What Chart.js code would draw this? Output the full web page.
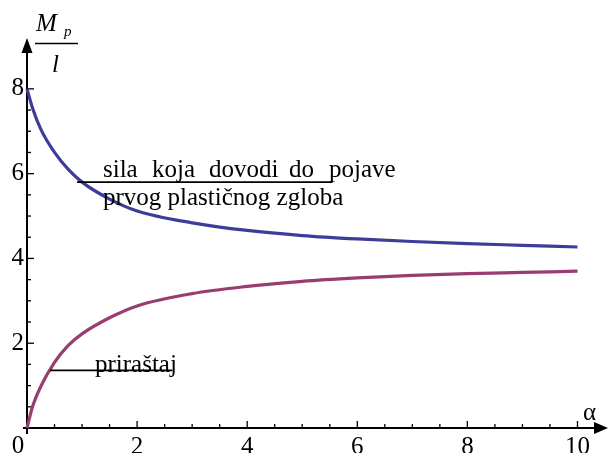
<!DOCTYPE html>
<html>
<head>
<meta charset="utf-8">
<script src="https://cdn.jsdelivr.net/npm/chart.js@4"></script>
<style>
html,body{margin:0;padding:0;background:#fff;}
#wrap{width:609px;height:453px;}
</style>
</head>
<body>
<div id="wrap"><canvas id="c" width="609" height="453"></canvas></div>
<script>
// ---- data ----
const alpha = [0, 0.1, 0.25, 0.5, 0.75, 1, 1.5, 2, 3, 4, 5, 6, 7, 8, 9, 10];
const upperForce = [8, 7.55, 7.05, 6.5, 6.1, 5.8, 5.4, 5.12, 4.84, 4.66, 4.54, 4.46, 4.40, 4.35, 4.31, 4.27];
const increment = [0, 0.5, 0.98, 1.55, 1.95, 2.22, 2.6, 2.88, 3.17, 3.34, 3.46, 3.54, 3.60, 3.64, 3.67, 3.70];
const xTicks = [2, 4, 6, 8, 10];
const yTicks = [2, 4, 6, 8];
const labelUpper1 = ["sila", "koja", "dovodi", "do", "pojave"];
const labelUpper2 = "prvog plastičnog zgloba";
const labelLower = "priraštaj";
// annotation leader lines in data units [x0, x1, y]
const leaderUpper = [0.91, 5.55, 5.8];
const leaderLower = [0.42, 2.64, 1.36];

const FONT = "'Liberation Serif', 'Times New Roman', serif";

const toXY = (ys) => alpha.map((a, i) => ({x: a, y: ys[i]}));

const decor = {
  id: 'decor',
  beforeDatasetsDraw(chart) {
    const ctx = chart.ctx;
    const xs = chart.scales.x, ys = chart.scales.y;
    const x0 = xs.getPixelForValue(0), y0 = ys.getPixelForValue(0);
    ctx.save();
    ctx.strokeStyle = '#000';
    ctx.fillStyle = '#000';
    ctx.lineWidth = 2;
    // x axis
    ctx.beginPath();
    ctx.moveTo(x0 - 4, y0); ctx.lineTo(598, y0); ctx.stroke();
    ctx.beginPath();
    ctx.moveTo(608, y0); ctx.lineTo(594, y0 - 6); ctx.lineTo(594, y0 + 6); ctx.closePath(); ctx.fill();
    // y axis
    ctx.beginPath();
    ctx.moveTo(x0, y0 + 6); ctx.lineTo(x0, 48); ctx.stroke();
    ctx.beginPath();
    ctx.moveTo(x0, 38); ctx.lineTo(x0 - 5.5, 53); ctx.lineTo(x0 + 5.5, 53); ctx.closePath(); ctx.fill();
    // ticks (inward)
    ctx.lineWidth = 1.3;
    for (let v = 0.5; v <= 10.001; v += 0.5) {
      const px = xs.getPixelForValue(v);
      const major = Math.abs(v / 2 - Math.round(v / 2)) < 1e-6;
      ctx.beginPath(); ctx.moveTo(px, y0); ctx.lineTo(px, y0 - (major ? 7 : 4)); ctx.stroke();
    }
    for (let v = 0.5; v <= 8.001; v += 0.5) {
      const py = ys.getPixelForValue(v);
      const major = Math.abs(v / 2 - Math.round(v / 2)) < 1e-6;
      ctx.beginPath(); ctx.moveTo(x0, py); ctx.lineTo(x0 + (major ? 7 : 4), py); ctx.stroke();
    }
    ctx.restore();
  },
  afterDraw(chart) {
    const ctx = chart.ctx;
    const xs = chart.scales.x, ys = chart.scales.y;
    const x0 = xs.getPixelForValue(0);
    ctx.save();
    ctx.fillStyle = '#000';
    ctx.strokeStyle = '#000';
    ctx.textBaseline = 'alphabetic';
    // origin label
    ctx.font = '25px ' + FONT;
    ctx.textAlign = 'center';
    ctx.fillText('0', x0 - 9, 453);
    // alpha
    ctx.textAlign = 'left';
    ctx.fillText('α', 583, 420);
    // y title  M_p / l
    ctx.font = 'italic 25px ' + FONT;
    ctx.fillText('M', 36, 31);
    ctx.font = 'italic 15px ' + FONT;
    ctx.fillText('p', 64, 36);
    ctx.lineWidth = 1.3;
    ctx.beginPath(); ctx.moveTo(35, 43.5); ctx.lineTo(78, 43.5); ctx.stroke();
    ctx.font = 'italic 25px ' + FONT;
    ctx.fillText('l', 52, 72);
    // leader lines
    ctx.lineWidth = 1.6;
    const drawLeader = (L) => {
      const py = ys.getPixelForValue(L[2]);
      ctx.beginPath();
      ctx.moveTo(xs.getPixelForValue(L[0]), py);
      ctx.lineTo(xs.getPixelForValue(L[1]), py);
      ctx.stroke();
    };
    drawLeader(leaderUpper);
    drawLeader(leaderLower);
    // labels
    ctx.font = '25px ' + FONT;
    ctx.textAlign = 'left';
    const wordX = [103, 152, 209, 289, 329];
    labelUpper1.forEach((w, i) => ctx.fillText(w, wordX[i], 177));
    ctx.fillText(labelUpper2, 103, 205);
    ctx.fillText(labelLower, 95, 372);
    ctx.restore();
  }
};

new Chart(document.getElementById('c'), {
  type: 'line',
  data: {
    datasets: [
      {
        data: toXY(upperForce),
        borderColor: 'rgb(61,61,153)',
        borderWidth: 3.2,
        pointRadius: 0,
        cubicInterpolationMode: 'monotone',
        fill: false,
        clip: false
      },
      {
        data: toXY(increment),
        borderColor: 'rgb(153,61,113)',
        borderWidth: 3.2,
        pointRadius: 0,
        cubicInterpolationMode: 'monotone',
        fill: false,
        clip: false
      }
    ]
  },
  options: {
    responsive: false,
    animation: false,
    events: [],
    layout: { padding: { top: 38, right: 4, left: 0, bottom: 0 } },
    plugins: { legend: { display: false }, tooltip: { enabled: false }, title: { display: false } },
    scales: {
      x: {
        type: 'linear',
        min: 0,
        max: 10.5,
        grid: { display: false, drawTicks: false },
        border: { display: false },
        afterBuildTicks: (s) => { s.ticks = xTicks.map(v => ({ value: v })); },
        afterFit: (s) => { s.height = 25; },
        ticks: {
          color: '#000',
          padding: 4,
          maxRotation: 0,
          autoSkip: false,
          font: { family: FONT, size: 25 },
          callback: (v) => String(v)
        }
      },
      y: {
        type: 'linear',
        min: 0,
        max: 9.2,
        grid: { display: false, drawTicks: false },
        border: { display: false },
        afterBuildTicks: (s) => { s.ticks = yTicks.map(v => ({ value: v })); },
        afterFit: (s) => { s.width = 27; },
        ticks: {
          color: '#000',
          padding: 3,
          autoSkip: false,
          font: { family: FONT, size: 25 },
          callback: (v) => String(v)
        }
      }
    }
  },
  plugins: [decor]
});
</script>
</body>
</html>
